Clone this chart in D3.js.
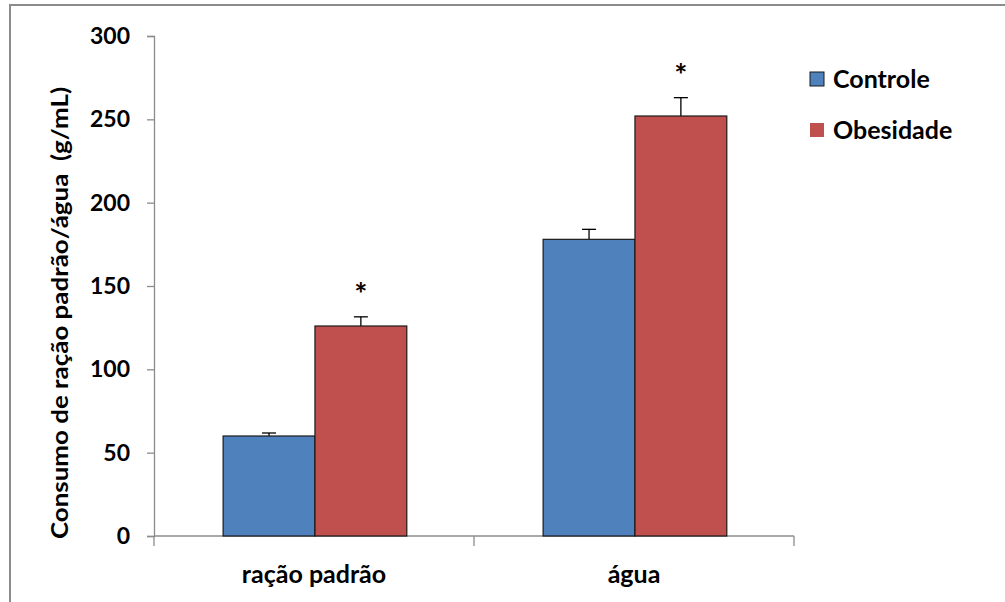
<!DOCTYPE html>
<html>
<head>
<meta charset="utf-8">
<script src="https://cdn.jsdelivr.net/npm/d3@7"></script>
<style>
  body { margin: 0; background: #fff; }
  svg { display: block; font-family: Lato, "Noto Sans", sans-serif; }
</style>
</head>
<body>
<svg id="chart" width="1005" height="602"></svg>
<script>
const categories = ['ração padrão', 'água'];
const series = ['Controle', 'Obesidade'];
const colors = ['#4F81BD', '#C0504D'];
const controleMeans = [60, 178];
const controleErr = [1.8, 6];
const obesidadeMeans = [126, 252];
const obesidadeErr = [5.5, 11];
const significant = [[false, true], [false, true]];
const yTicks = [0, 50, 100, 150, 200, 250, 300];

const svg = d3.select('#chart');

// outer frame (only top/left edges fall inside the picture)
svg.append('rect')
  .attr('x', 10).attr('y', 5)
  .attr('width', 1100).attr('height', 700)
  .attr('fill', 'none')
  .attr('stroke', '#8c8c8c')
  .attr('stroke-width', 2);

const plotLeft = 154, plotRight = 794, plotTop = 36, plotBottom = 536;

const x0 = d3.scaleBand().domain(categories).range([plotLeft, plotRight]);
const x1 = d3.scaleBand().domain(series)
  .range([x0.bandwidth() * 0.216, x0.bandwidth() * 0.79]);
const y = d3.scaleLinear().domain([0, 300]).range([plotBottom, plotTop]);

const rows = categories.map((c, i) => ({
  cat: c,
  vals: [
    { s: series[0], v: controleMeans[i], e: controleErr[i], sig: significant[i][0], color: colors[0] },
    { s: series[1], v: obesidadeMeans[i], e: obesidadeErr[i], sig: significant[i][1], color: colors[1] }
  ]
}));

// y axis
const yAxis = svg.append('g')
  .attr('transform', `translate(${plotLeft},0)`)
  .call(d3.axisLeft(y).tickValues(yTicks).tickSize(7).tickPadding(17));
yAxis.select('.domain').attr('stroke', '#8c8c8c').attr('stroke-width', 1.3);
yAxis.selectAll('.tick line').attr('stroke', '#8c8c8c').attr('stroke-width', 1.3);
yAxis.selectAll('.tick text')
  .attr('font-size', 23).attr('font-weight', 'bold').attr('fill', '#000')
  .attr('font-family', 'Lato, sans-serif');

// x axis
const xAxis = svg.append('g')
  .attr('transform', `translate(0,${plotBottom})`);
xAxis.append('line')
  .attr('x1', plotLeft).attr('x2', plotRight)
  .attr('stroke', '#8c8c8c').attr('stroke-width', 1.3);
xAxis.selectAll('line.tk')
  .data([plotLeft, x0(categories[1]), plotRight])
  .join('line').attr('class', 'tk')
  .attr('x1', d => d).attr('x2', d => d)
  .attr('y1', 0).attr('y2', 10)
  .attr('stroke', '#8c8c8c').attr('stroke-width', 1.3);
xAxis.selectAll('text')
  .data(categories)
  .join('text')
  .attr('x', d => x0(d) + x0.bandwidth() / 2)
  .attr('y', 47)
  .attr('text-anchor', 'middle')
  .attr('font-size', 25).attr('font-weight', 'bold')
  .text(d => d);

// bars
const groups = svg.append('g').selectAll('g')
  .data(rows)
  .join('g')
  .attr('transform', d => `translate(${x0(d.cat)},0)`);

// error bars (upper only), drawn under bars
groups.selectAll('g.err')
  .data(d => d.vals)
  .join('g').attr('class', 'err')
  .each(function (d) {
    const g = d3.select(this);
    const cx = x1(d.s) + x1.bandwidth() / 2;
    g.append('line')
      .attr('x1', cx).attr('x2', cx)
      .attr('y1', y(d.v)).attr('y2', y(d.v + d.e))
      .attr('stroke', '#000').attr('stroke-width', 1.3);
    g.append('line')
      .attr('x1', cx - 7).attr('x2', cx + 7)
      .attr('y1', y(d.v + d.e)).attr('y2', y(d.v + d.e))
      .attr('stroke', '#000').attr('stroke-width', 1.3);
  });

groups.selectAll('rect')
  .data(d => d.vals)
  .join('rect')
  .attr('x', d => x1(d.s))
  .attr('y', d => y(d.v))
  .attr('width', x1.bandwidth())
  .attr('height', d => y(0) - y(d.v))
  .attr('fill', d => d.color)
  .attr('stroke', '#1a1a1a')
  .attr('stroke-width', 1.2);

// significance asterisks
groups.selectAll('text.sig')
  .data(d => d.vals.filter(v => v.sig))
  .join('text').attr('class', 'sig')
  .attr('x', d => x1(d.s) + x1.bandwidth() / 2)
  .attr('y', d => y(d.v + d.e) - 12)
  .attr('text-anchor', 'middle')
  .attr('font-size', 31).attr('font-weight', 'bold')
  .text('*');

// y axis title
svg.append('text')
  .attr('transform', 'translate(68,313) rotate(-90)')
  .attr('text-anchor', 'middle')
  .attr('font-size', 22).attr('font-weight', 'bold')
  .attr('textLength', 452).attr('lengthAdjust', 'spacingAndGlyphs')
  .attr('xml:space', 'preserve')
  .text('Consumo de ração padrão/água  (g/mL)');

// legend
const legend = svg.append('g').selectAll('g')
  .data(series)
  .join('g')
  .attr('transform', (d, i) => `translate(810,${72 + i * 51})`);
legend.append('rect')
  .attr('width', 14).attr('height', 14)
  .attr('fill', (d, i) => colors[i])
  .attr('stroke', (d, i) => i === 0 ? '#1a1a1a' : 'none')
  .attr('stroke-width', 1);
legend.append('text')
  .attr('x', 23).attr('y', 16)
  .attr('font-size', 25).attr('font-weight', 'bold')
  .text(d => d);
</script>
</body>
</html>
